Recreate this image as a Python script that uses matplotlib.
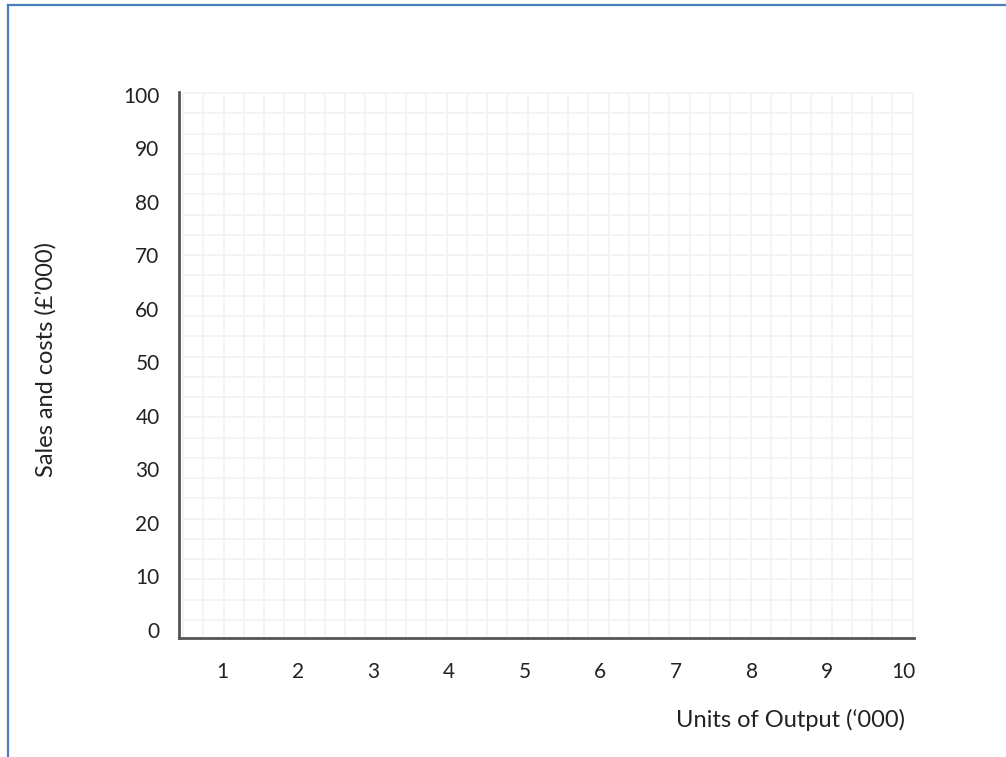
import numpy as np
import matplotlib
matplotlib.use("Agg")
import matplotlib.pyplot as plt
from matplotlib.lines import Line2D

# Data / labels
x_ticks = [1, 2, 3, 4, 5, 6, 7, 8, 9, 10]
y_ticks = [0, 10, 20, 30, 40, 50, 60, 70, 80, 90, 100]
x_label = "Units of Output (\u2018000)"
y_label = "Sales and costs (\u00a3\u2019000)"

plt.rcParams['font.family'] = ['Lato', 'DejaVu Sans']

W, H = 1006, 757
fig = plt.figure(figsize=(W / 100, H / 100), dpi=100)
fig.patch.set_facecolor('white')

# axes box in pixels
L, R, T, B = 179, 914, 92, 638
ax = fig.add_axes([L / W, 1 - B / H, (R - L) / W, (B - T) / H])
ax.set_xlim(0.432, 10.145)
ax.set_ylim(-1.5, 100.56)

# graph-paper grid (decorative, ~20 px squares)
step = 20.27
gx = np.arange(183, 913, step)
gy = np.arange(93, 637, step)
ax.vlines((gx - L) / (R - L), 0, (B - 93) / (B - T), transform=ax.transAxes,
          color='#f3f3f3', lw=1.3, zorder=0)
ax.hlines((B - gy) / (B - T), (182 - L) / (R - L), (913 - L) / (R - L),
          transform=ax.transAxes, color='#f3f3f3', lw=1.3, zorder=0)

for s in ['top', 'right']:
    ax.spines[s].set_visible(False)
for s in ['left', 'bottom']:
    ax.spines[s].set_color('#555555')
    ax.spines[s].set_linewidth(2)

ax.set_xticks(x_ticks)
ax.set_xticklabels([str(v) for v in x_ticks])
ax.set_yticks(y_ticks)
ax.set_yticklabels([str(v) for v in y_ticks])
ax.tick_params(axis='both', length=0, labelsize=15, colors='#222222')
ax.tick_params(axis='x', pad=17)
ax.tick_params(axis='y', pad=14)

fig.text(791 / W, 1 - 720 / H, x_label, ha='center', va='center',
         fontsize=17, color='#222222')
fig.text(46 / W, 1 - 359 / H, y_label, ha='center', va='center',
         rotation=90, fontsize=17, color='#222222')

# blue frame (top and left edges)
blue = '#4a7ebb'
fig.add_artist(Line2D([8 / W, 1.0], [1 - 5 / H, 1 - 5 / H], color=blue, lw=1.6,
                      transform=fig.transFigure))
fig.add_artist(Line2D([8 / W, 8 / W], [0, 1 - 5 / H], color=blue, lw=1.6,
                      transform=fig.transFigure))

fig.savefig('out.png', dpi=100, facecolor='white')
